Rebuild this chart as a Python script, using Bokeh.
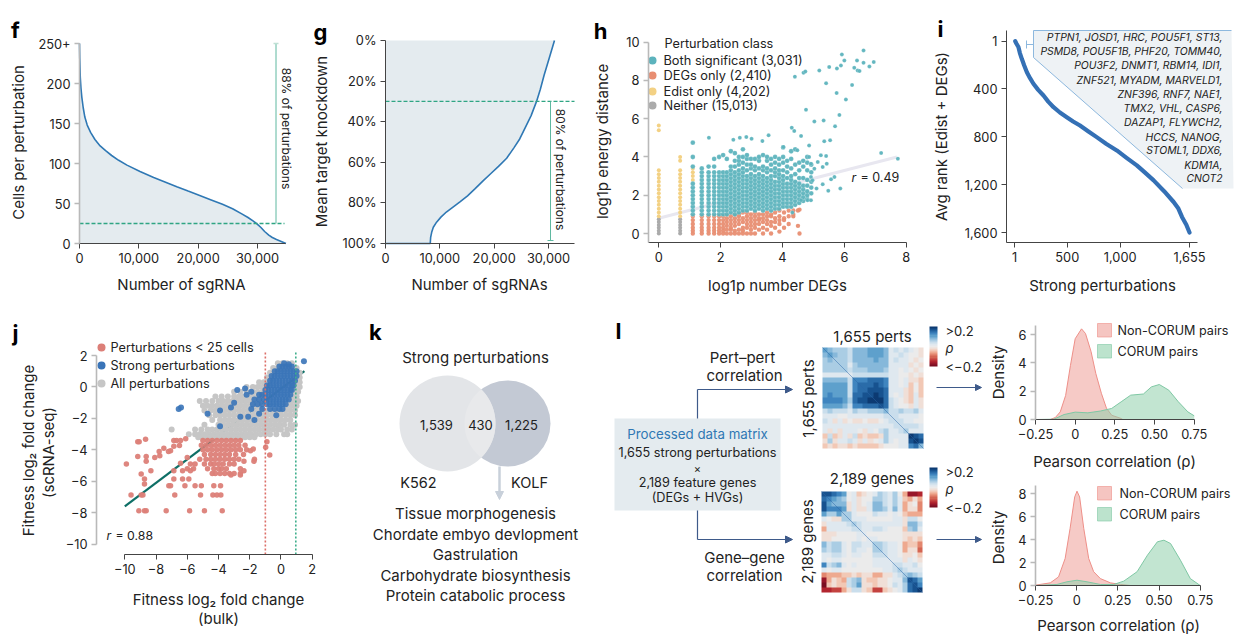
from bokeh.plotting import figure
from bokeh.embed import file_html
from bokeh.resources import INLINE
from bokeh.layouts import row, column
from bokeh.models import (Label, LinearAxis, FixedTicker, Range1d, Arrow, NormalHead,
                          LinearColorMapper)
import numpy as np

# ---------- panel f ----------
f_x = [0,40,130,250,390,620,900,1300,1870,2600,3480,4400,5420,6600,8000,10200,12500,14400,16400,18300,20260,22200,24100,25800,27350,28400,29300,30000,30580,31200,31900,32500,33200,34000,34800]
f_y = [250,232,208,194,183,170,158,148,139,130,122,116,110,104,98,90,82.5,77,71,65.5,60,54.5,49,43.5,37,32.5,28,24,20,15,10.5,7.5,5,2.5,0]
f_xticks = [0,10000,20000,30000]; f_xlabels = ["0","10,000","20,000","30,000"]
f_yticks = [0,50,100,150,200,250]; f_ylabels = ["0","50","100","150","200","250+"]
f_cutoff = 25
# ---------- panel g ----------
g_x = [0,8240,8270,8310,8500,8800,9400,10200,11200,12300,13700,15100,16500,18000,19400,20800,22300,23600,24700,25700,26800,27800,28500,29200,30100,31100]
g_y = [100,100,98.5,97,94.5,92,89.5,87,84.5,82.3,79.5,76.5,73,69,65.5,62,58,53,48.5,43,37,30,24,17,9,0]
g_xticks = [0,10000,20000,30000]; g_xlabels = ["0","10,000","20,000","30,000"]
g_yticks = [0,20,40,60,80,100]; g_ylabels = ["0%","20%","40%","60%","80%","100%"]
g_cutoff = 30
# ---------- panel h ----------
h_grey_x = [0,.69]
h_grey_cols = [[0,.15,.3,.45,.6,.75],[0,.15,.3,.45,.6,.75]]
h_yellow_x = [0,.69,1.1]
h_yellow_cols = [[.9,1.1,1.3,1.5,1.7,1.9,2.1,2.3,2.5,2.7,2.9,3.1,3.3,5.4,5.65],
                 [.9,1.1,1.3,1.5,1.7,1.9,2.1,2.3,2.5,2.7,2.9,3.1,3.3,3.8,4.0],
                 [2.8,3,3.2,3.4]]
h_both_x = [1.1,1.39,1.61,1.79,1.95,2.08,2.2,2.33,2.46,2.59,2.72,2.85,2.98,3.11,3.24,3.37,3.5,3.63,3.76,3.89,4.02,4.15,4.28,4.41,4.54,4.67,4.8,4.93]
h_both_cols = [
 [1,1.2,1.4,1.6,1.8,2,2.2,2.4,2.6,3.5,4,4.75],
 [1,1.2,1.4,1.6,1.8,2,2.2,2.4,2.6,2.8,3,3.2,3.4],
 [1,1.2,1.4,1.6,1.8,2,2.2,2.4,2.6,2.8,3,3.2,3.5],
 [1,1.2,1.4,1.6,1.8,2,2.2,2.4,2.6,2.8,3,3.2,3.5,3.9],
 [1,1.2,1.4,1.6,1.8,2,2.2,2.4,2.6,2.8,3,3.2,4],
 [1,1.2,1.4,1.6,1.8,2,2.2,2.4,2.6,2.8,3,3.2,4.1],
 [1,1.2,1.4,1.6,1.8,2,2.2,2.4,2.6,2.8,3,3.2,3.9],
 [1.1,1.3,1.5,1.7,1.9,2.1,2.3,2.5,2.7,2.9,3.1,3.3,3.5,4.3],
 [1,1.2,1.4,1.6,1.8,2,2.2,2.4,2.6,2.8,3,3.2,3.5,3.8,4.2],
 [1.1,1.3,1.5,1.7,1.9,2.1,2.3,2.5,2.7,2.9,3.1,3.3,3.6,3.8,4],
 [1.2,1.4,1.6,1.8,2,2.2,2.4,2.6,2.8,3,3.2,3.4,3.7,4,4.4],
 [1.2,1.4,1.6,1.8,2,2.2,2.4,2.6,2.8,3,3.3,3.6,3.9,4.1],
 [1.3,1.5,1.7,1.9,2.1,2.3,2.5,2.7,2.9,3.1,3.4,3.6,3.9],
 [1.2,1.4,1.6,1.8,2,2.2,2.4,2.6,2.8,3,3.3,3.5,3.9],
 [1.3,1.5,1.7,1.9,2.1,2.3,2.5,2.7,2.9,3.1,3.4,3.8,4],
 [1.2,1.4,1.6,1.8,2,2.2,2.4,2.6,2.8,3,3.3,3.5,4.1],
 [1.3,1.5,1.7,1.9,2.1,2.3,2.5,2.7,2.9,3.2,3.4,3.8,4],
 [1.2,1.4,1.6,1.8,2,2.2,2.4,2.6,2.8,3,3.3,3.6,3.9],
 [1.3,1.5,1.7,1.9,2.1,2.3,2.5,2.7,3,3.2,3.4,3.7,4],
 [1.3,1.5,1.7,1.9,2.1,2.3,2.5,2.7,2.9,3.1,3.3,3.6,3.9],
 [1.4,1.6,1.8,2,2.2,2.4,2.6,2.8,3,3.3,3.7,4,4.5],
 [1.4,1.6,1.8,2,2.2,2.4,2.6,2.9,3.2,3.5,3.8],
 [1.4,1.6,1.8,2,2.2,2.4,2.6,2.8,3,3.4,3.9,4.3],
 [1.5,1.7,1.9,2.1,2.3,2.5,2.7,3.1,3.6,4.4],
 [1.6,1.8,2,2.2,2.4,2.6,2.9,3.3,3.7],
 [1.7,1.9,2.1,2.3,2.5,2.9,3.5,3.8],
 [1.8,2,2.2,2.5,2.8,3.3,3.7,4],
 [2.1,2.4,2.7,3.2,3.6]]
h_sparse_x = [1.62,2.41,2.62,2.83,3,3.35,3.55,4.03,4.3,4.38,4.6,4.4,4.68,4.74,5.19,5.51,5.41,4.76,5.03,5.33,5.7,5.84,5.75,6.05,6.25,5.76,5.92,5.89,6,6.32,6.41,6.43,6.49,6.62,6.62,6.81,6.95,7.19,7.73,5.87,5.48,5.57,5.68,5.3,5.1,4.86,4.48,5.35,5.54,5.24,5.41,4.86,5.43,5.14,4.92,5.03,5.3,4.92,4.97,4.81,4.92,4.6,4.32]
h_sparse_y = [5,4.9,5,5.04,4.95,4.83,5.13,4.52,5.53,5.36,5.1,8.2,8.4,8.47,8.52,8.7,7.86,6.47,5.86,5.91,5.6,6.2,7.34,7,7.76,8.63,9.36,8.78,9.04,8.66,9.04,8.52,8.49,9.57,8.92,8.73,8.96,4.21,3.91,2.35,2.23,2.83,2.96,2.57,2.35,4.6,4.35,4.82,4.87,4.09,4.05,4,3.65,3.74,3.65,3.39,3.48,2.96,2.78,1.74,1.74,1.74,1.1]
h_deg_x = [1.1,1.39,1.61,1.79,1.95,2.08,2.2,2.33,2.46,2.59,2.72,2.85,2.98,3.11,3.24,3.37,3.5,3.63,3.76,3.9,4.05,4.2,4.35,4.5,4.55]
h_deg_cols = [[0,.15,.3,.5,.7,.9],[0,.15,.3,.5,.7,.9],[0,.15,.3,.5,.7,.9],[0,.15,.3,.5,.7,.9],[0,.15,.3,.5,.7,.9],[0,.15,.3,.5,.7,.9],
 [0,.2,.4,.6,.8,1],[0,.2,.3,.5,.7,.9],[0,.15,.4,.6,.8,1],[0,.2,.5,.7,.9,1],[0,.15,.3,.6,.8,1.1],[0,.3,.5,.7,.9,1.1],[0,.2,.4,.6,.8,1],
 [0,.3,.5,.7,.9,1.1],[.2,.5,.7,.8,1],[0,.3,.6,.8,1],[.2,.5,.7,.9,1.1],[0,.4,.6,.9,1],[.3,.6,.8,1.1],[.1,.5,.7,.9,1.2],[.3,.7,.8,1.1],[.5,.9,1.2],[.9,1,1.2],[.4,1.2],[0,1.25]]
h_fit_x = [0,7.7]; h_fit_y = [.8,4]
h_classes = ["Both significant (3,031)","DEGs only (2,410)","Edist only (4,202)","Neither (15,013)"]
h_xticks = [0,2,4,6,8]; h_yticks = [0,2,4,6,8,10]
# ---------- panel i ----------
i_x = [8,20,38,52,70,92,118,148,180,225,275,320,370,430,495,555,620,700,778,870,968,1060,1157,1235,1316,1415,1505,1550,1584,1625,1655]
i_y = [1,22,50,100,148,202,260,310,357,408,455,506,553,597,636,672,706,755,803,860,914,976,1039,1100,1164,1255,1345,1400,1470,1535,1600]
i_xticks = [1,500,1000,1655]; i_xlabels = ["1","500","1,000","1,655"]
i_yticks = [1,400,800,1200,1600]; i_ylabels = ["1","400","800","1,200","1,600"]
i_genes = ["PTPN1, JOSD1, HRC, POU5F1, ST13,","PSMD8, POU5F1B, PHF20, TOMM40,","POU3F2, DNMT1, RBM14, IDI1,",
 "ZNF521, MYADM, MARVELD1,","ZNF396, RNF7, NAE1,","TMX2, VHL, CASP6,","DAZAP1, FLYWCH2,","HCCS, NANOG,",
 "STOML1, DDX6,","KDM1A,","CNOT2"]
# ---------- panel j ----------
j_grey_rows = [1.5,1.2,.9,.6,.3,0,-.3,-.6,-.9,-1.2,-1.5,-1.8,-2.1,-2.4,-2.7,-3,-3.2]
j_grey_cols = [
 [-.2,.1,.4,.7],[-.5,-.2,.1,.4,.7,1],[-.7,-.4,1,1.2],[-.9,-.6,1,1.2],[-1.4,-1.1,-.8,1,1.2],[-2.2,-1.8,-1.5,-1.2,-.9,1,1.2],
 [-3,-2.6,-2.2,-1.8,-1.5,-1.2,.9,1.1],[-4.2,-3.8,-3.4,-3,-2.7,-2.4,-2.1,-1.8,-1.5,-1.2,.7,1],
 [-5.2,-4.8,-4.4,-4,-3.7,-3.4,-3.1,-2.8,-2.5,-2.2,-1.9,-1.6,-1.3,.6,.9,1.1],
 [-5,-4.7,-4.4,-4.1,-3.8,-3.5,-3.2,-2.9,-2.6,-2.3,-2,-1.7,-1.4,.4,.7,1],
 [-4.9,-4.5,-4.2,-3.9,-3.6,-3.3,-3,-2.7,-2.4,-2.1,-1.8,-1.5,-1.2,-.9,-.6,-.3,0,.3,.6,.9],
 [-4.6,-4.2,-3.9,-3.6,-3.3,-3,-2.7,-2.4,-2.1,-1.8,-1.5,-1.2,-.9,-.6,-.3,0,.3,.6,.9],
 [-4.4,-3.9,-3.6,-3.3,-3,-2.7,-2.4,-2.1,-1.8,-1.5,-1.2,-.9,-.6,-.3,0,.3,.6],
 [-4.9,-4,-3.7,-3.4,-3.1,-2.8,-2.5,-2.2,-1.9,-1.6,-1.3,-1,-.7,-.4,-.1,.2,.6,.9],
 [-7,-5.5,-5.1,-4.7,-4.4,-4.1,-3.8,-3.5,-3.2,-2.9,-2.6,-2.3,-2,-1.7,-1.4,-1.1,-.8,-.5,-.2,0,.4,.7],
 [-5.9,-5.5,-5.2,-4.9,-4.6,-4.3,-4,-3.7,-3.4,-3.1,-2.8,-2.5,-2.2,-1.9,-1.6,-1.3,-1,-.7,-.3,.2,.4],
 [-5.3,-5,-4.7,-4.4,-4.1,-3.8,-3.5,-3.2,-2.9,-2.6,-2.3,-2,-1.7]]
j_red_rows = [-3.4,-3.7,-4,-4.3,-4.6,-4.9,-5.2,-5.5]
j_red_cols = [
 [-5,-4.7,-4.4,-4.1,-3.8,-3.5,-3.2,-2.9,-2.6],[-5.1,-4.8,-4.5,-4.2,-3.9,-3.6,-3.3,-3,-2.7,-2.3],
 [-5,-4.7,-4.4,-4.1,-3.8,-3.5,-3.2,-2.9,-2.6,-2.2],[-4.9,-4.5,-4.2,-3.9,-3.6,-3.3,-2.9,-2.4],
 [-5.2,-4.8,-4.5,-4.2,-3.9,-3.6,-3.3,-3,-2.7,-1.7],[-5.8,-5.5,-4.9,-4.5,-4.3,-4,-3.7,-3.3,-3],
 [-6,-5.6,-4.7,-4.3,-4,-3.8,-3.5,-2.6],[-4.4,-4.2,-3.9,-3.6,-3.3,-3,-2.6]]
j_red_x = [-9.9,-9.17,-9.08,-8.67,-9.17,-8.63,-8.63,-8.95,-8.33,-8.74,-8.74,-9.6,-8.95,-8.84,-9.1,-8.74,-8.63,-7.35,-5.85,-4.9,-3.76,-6.8,-5.15,-4.36,-4.1,-3.85,-7.18,-7.07,-6.15,-5.5,-5.1,-4.3,-3.87,-6.86,-6.3,-5.9,-6.86,-6.3,-5.8,-8.08,-7.76,-7.5,-7.8,-7.07,-6.86,-6.69,-6.43,-6.86,-6.5,-6.1,-7.2,-6.43,-6,-1.77,-1.95,-.9,-.72,-.98,-2.37,-1.73,-2.37,-3.2,-2.6]
j_red_y = [-4.9,-3.48,-3.48,-3.33,-4.43,-4.43,-4.73,-5.54,-5.33,-5.85,-6.17,-6.87,-6.87,-6.87,-7.87,-7.87,-7.87,-7.87,-7.87,-7.87,-7.87,-6.87,-6.87,-6.87,-6.87,-6.87,-6.28,-6.28,-6.28,-6.28,-6.28,-6.28,-6.28,-5.85,-5.85,-5.85,-5.33,-5.33,-5.33,-4.48,-4.37,-3.9,-4.1,-4.05,-3.41,-3.41,-3.41,-3.77,-3.73,-3.3,-4.1,-4.86,-4.48,-3.95,-4.05,-3.48,-4.33,-3.84,-4.73,-4.73,-5.33,-5.6,-5.6]
j_blue_rows = [1.3,1,.7,.4,.1,-.2,-.5,-.8,-1.1,-1.4]
j_blue_cols = [
 [-.1,.1,.3,.5,.7],[-.4,-.2,0,.2,.4,.6,.8,1],[-.6,-.4,-.2,0,.2,.4,.6,.8,1],[-.7,-.5,-.3,-.1,.1,.3,.5,.7,.9],
 [-.9,-.7,-.5,-.3,-.1,.1,.3,.5,.7,.8],[-1,-.8,-.6,-.4,-.2,0,.2,.4,.6,.7],[-1.4,-1.2,-1,-.8,-.6,-.4,-.2,0,.2,.4,.6],
 [-1.7,-1.4,-1.1,-.9,-.7,-.5,-.3,-.1,.1,.3,.5],[-1.8,-1.5,-1.2,-.9,-.7,-.5,-.3,-.1,.1,.3],[-1.9,-1.2,-.7,-.4,-.1,.1]]
j_blue_x = [1.47,-6.4,-6.55,-2.8,-2.3,-1.9,-2.2,-3,-4.7,-3.9,-3.2,-2.6,-2.1,-1.7,-3.9,-1.4,.2,.5,-.3]
j_blue_y = [1.64,-1.3,-1.4,-.2,-.1,-.3,-.5,-1,-1.7,-1.5,-1.3,-1.9,-1.9,-2.1,-2.5,-1.7,1.5,1.45,-1.8]
j_fit_x = [-10,1.5]; j_fit_y = [-7.6,1]
j_xticks = [-10,-8,-6,-4,-2,0,2]; j_xlabels = ["\u221210","\u22128","\u22126","\u22124","\u22122","0","2"]
j_yticks = [-10,-8,-6,-4,-2,0,2]; j_ylabels = j_xlabels
j_classes = ["Perturbations < 25 cells","Strong perturbations","All perturbations"]
# ---------- panel k ----------
k_counts = ["1,539","430","1,225"]
k_sets = ["K562","KOLF"]
k_terms = ["Tissue morphogenesis","Chordate embyo devlopment","Gastrulation","Carbohydrate biosynthesis","Protein catabolic process"]
# ---------- panel l heat maps ----------
pert_matrix = [
 [5,4,3,3,3,2,4,4,4,5,5,5,4,1,2,1,2,1,0,-1],[4,5,4,3,3,2,4,4,4,5,5,5,4,1,1,2,1,0,0,-1],
 [3,4,3,3,3,2,4,4,4,4,5,4,4,1,2,1,1,0,-1,0],[3,3,3,3,3,1,3,4,4,4,4,4,4,1,1,1,1,-1,0,-1],
 [3,3,3,3,3,2,3,3,3,4,4,4,3,1,1,0,1,0,-1,0],[1,1,1,1,1,1,2,2,2,2,2,2,2,1,1,0,0,-1,0,-1],
 [4,4,4,4,4,2,6,6,6,7,7,7,6,1,1,0,1,-1,-1,-2],[5,5,5,5,5,2,6,7,7,7,8,7,6,1,1,0,1,-2,0,-2],
 [5,5,5,5,5,2,6,7,7,8,8,8,7,1,1,1,-1,-2,0,-2],[5,6,5,5,5,2,7,7,8,8,9,8,7,1,0,1,-1,-2,1,-2],
 [6,6,6,6,5,3,7,8,8,9,9,9,7,2,1,0,-1,-2,1,-1],[5,5,5,5,4,2,6,6,7,7,7,8,7,2,1,0,0,-1,1,-1],
 [2,3,2,2,2,1,3,2,2,3,3,3,4,2,2,3,2,2,3,1],[1,1,1,0,0,1,1,1,1,1,1,1,2,2,2,1,1,1,1,0],
 [2,1,-1,1,-1,0,-1,-1,0,-1,-1,0,1,2,2,2,1,1,0,0],[1,1,1,1,1,1,1,1,1,1,1,1,1,1,2,2,2,2,2,1],
 [1,-1,1,-1,1,1,1,0,-1,1,0,2,3,1,1,2,3,1,1,1],[-2,2,-2,-1,1,-1,2,-2,-1,-2,-2,-1,3,1,1,1,1,9,8,7],
 [-1,3,-1,1,1,2,1,-1,1,-1,0,1,3,1,0,1,1,8,9,8],[-2,-1,-2,-1,-1,-2,-1,-2,-2,-2,-2,-1,0,0,0,1,1,6,7,4]]
gene_matrix = [
 [8,8,7,6,5,0,1,-2,-1,0,1,3,2,1,3,0,-3,-8,-8,-7],[7,6,5,4,3,0,1,-1,0,0,3,3,2,1,3,1,-2,-3,-1,-3],
 [8,5,4,4,4,-1,1,-1,0,1,4,4,2,1,3,1,-3,-1,0,-4],[8,6,6,6,5,-1,1,-1,-1,1,4,4,3,1,4,1,-3,-1,-1,-4],
 [5,3,3,5,3,3,1,0,0,0,2,1,1,0,1,0,-2,-3,-3,-3],[1,0,-1,-1,3,3,1,1,1,0,0,0,0,0,1,1,-1,2,2,0],
 [-1,1,1,1,1,2,3,2,1,1,1,1,1,1,1,1,-1,4,4,2],[-3,1,1,1,1,1,2,2,1,1,2,2,1,0,0,0,-2,3,4,1],
 [-1,-1,-1,0,0,0,0,1,1,0,0,0,0,0,0,0,-1,-1,-1,-1],[-1,-1,0,0,0,0,0,1,0,1,1,0,0,0,0,0,-1,-2,-1,-2],
 [4,2,3,3,1,0,2,2,1,1,3,3,2,1,1,0,-3,-2,-2,-4],[3,2,3,3,1,0,2,1,1,0,3,3,2,1,1,0,-3,-1,-1,-5],
 [1,1,2,2,1,0,1,1,0,0,2,2,2,1,1,0,-1,-1,0,-2],[1,0,1,1,0,0,0,0,0,0,1,1,1,1,1,1,-1,1,0,-1],
 [6,2,3,4,1,0,1,0,0,0,1,1,1,1,2,2,1,1,2,0],[1,0,1,1,0,0,0,0,0,0,0,0,1,1,2,3,2,1,1,1],
 [-4,-3,-3,-3,-2,-2,-1,-2,-1,-1,-3,-3,-1,-1,1,2,3,4,3,2],[-8,-3,-1,-2,-3,2,3,4,-1,-2,-2,-1,-1,0,1,1,4,8,7,5],
 [-9,-2,-1,-2,-2,2,3,5,-1,-1,-2,-1,-1,0,2,1,3,7,8,6],[-7,-7,-6,-6,-3,-1,2,2,-1,-2,-6,-6,-2,-1,0,1,3,7,8,9]]
cbar_levels = [9,8,7,6,5,4,3,2,1,0,-1,-2,-3,-4,-5,-6,-7,-8,-9]
heat_palette = ["#7a0f22","#98172a","#b2252f","#c4423f","#d46552","#e3866e","#eea98f","#f2c8b5","#f0dfd7","#ebebeb",
                "#dfe8ef","#cadeec","#aacde4","#86b8da","#5ea0cc","#3f85bf","#2a6ca9","#17528f","#0c3a72"]
# ---------- density panels ----------
d1_non_x = [-.157,-.125,-.094,-.06,-.03,0,.04,.065,.1,.13,.165,.197,.23,.29,.3]
d1_non_y = [0,.14,.54,1.7,3.8,5.7,6.4,6.07,4.8,3.25,1.85,.8,.3,.07,0]
d1_cor_x = [-.25,-.135,-.07,0,.08,.16,.23,.29,.35,.43,.48,.53,.59,.65,.71,.75]
d1_cor_y = [0,.02,.35,.52,.47,.6,.78,1.25,1.72,1.8,2.3,2.47,2.07,1.25,.54,.26]
d2_non_x = [-.25,-.16,-.11,-.07,-.04,-.012,.002,.018,.043,.073,.103,.144,.205,.266,.327]
d2_non_y = [.03,.23,.75,2.35,4.96,7.7,8.2,7.7,4.96,2.35,1.2,.6,.23,.09,0]
d2_cor_x = [-.25,-.12,-.06,.002,.063,.144,.225,.286,.367,.43,.49,.53,.57,.63,.69,.75]
d2_cor_y = [0,.09,.32,.46,.32,.09,.09,.38,1.2,2.64,3.8,3.94,3.65,2.2,.6,0]
d_xticks = [-.25,0,.25,.5,.75]; d_xlabels = ["\u22120.25","0","0.25","0.50","0.75"]
d1_yticks = [0,2,4,6]; d2_yticks = [0,2,4,6,8]
d_classes = ["Non-CORUM pairs","CORUM pairs"]

# ---------- helpers (coordinates below are page pixels of the layout) ----------
FONT = "Inter"; INK = "#222222"; DARK = "#444444"; GREY = "#b9b9b9"; TICK = "12.8px"; TITLE = 15
MAPS = {}
def panel(cell, ax, ay):
    cx0, cy0, cx1, cy1 = cell
    sx = (ax[3]-ax[1])/(ax[2]-ax[0]); sy = (ay[3]-ay[1])/(ay[2]-ay[0])
    X = lambda px: ax[1]+(px-ax[0])*sx
    Y = lambda py: ay[1]+(py-ay[0])*sy
    p = figure(width=cx1-cx0, height=cy1-cy0, min_border=0,
               x_range=Range1d(X(cx0), X(cx1)), y_range=Range1d(Y(cy1), Y(cy0)),
               x_axis_type=None, y_axis_type=None, output_backend="svg", toolbar_location=None,
               outline_line_color=None, background_fill_color=None, border_fill_color=None)
    p.grid.visible = False
    MAPS[p.id] = (X, Y)
    return p, X, Y
def axis(p, side, loc, ticks, labels, bounds, color=DARK, width=1.0, standoff=4):
    a = LinearAxis(ticker=FixedTicker(ticks=ticks), bounds=bounds, fixed_location=loc,
                   major_label_overrides={t: l for t, l in zip(ticks, labels)},
                   axis_line_color=color, axis_line_width=width, major_tick_line_color=color,
                   major_tick_line_width=width, major_tick_out=5, major_tick_in=0, minor_tick_out=0, minor_tick_in=0,
                   major_label_text_font=FONT, major_label_text_font_size=TICK, major_label_text_color=INK,
                   major_label_standoff=standoff)
    p.add_layout(a, side)
def T(p, px, py, text, size=TITLE, align="center", base="middle", angle=0, color=INK, style="normal", font=FONT):
    X, Y = MAPS[p.id]
    p.add_layout(Label(x=X(px), y=Y(py), text=text, text_font=font, text_font_size=f"{size}px", text_color=color,
                       text_align=align, text_baseline=base, angle=angle, angle_units="deg", text_font_style=style))
def columns_to_points(xs, cols):
    ox, oy = [], []
    for x, c in zip(xs, cols):
        ox += [x]*len(c); oy += c
    return ox, oy
def rows_to_points(ys, rows):
    oy, ox = columns_to_points(ys, rows)
    return ox, oy
BLUE = "#2f78b4"; FILL = "#e4ebef"; GREEN = "#2fa583"; LET = 22

# ---- f ----
pf, X, Y = panel((0,0,305,310), (79,0,257,30000), (243,0,43,250))
pf.varea(f_x, [0]*len(f_x), f_y, color=FILL)
pf.line(f_x, f_y, color=BLUE, line_width=1.6)
pf.line([0, X(284)], [f_cutoff]*2, color=GREEN, line_dash=[4,2], line_width=1.3)
pf.line([X(275.5)]*2, [f_cutoff, 250], color="#5fb8a0", line_width=1)
pf.line([X(273), X(278)], [250,250], color="#bfe0d4", line_width=1.5)
axis(pf, "left", 0, f_yticks, f_ylabels, (0,250), color=GREY, width=1.6)
axis(pf, "below", 0, f_xticks, f_xlabels, (0,X(285)))
T(pf, 18, 142, "Cells per perturbation", angle=90)
T(pf, 181, 284, "Number of sgRNA")
T(pf, 286, 128, "88% of perturbations", 12, angle=-90)
T(pf, 15, 29, "f", LET, style="bold", color="#000000")
# ---- g ----
pg, X, Y = panel((305,0,592,310), (385,0,548,30000), (40,0,243,100))
pg.harea(x1=[0]*len(g_x), x2=g_x, y=g_y, color=FILL)
pg.line(g_x, g_y, color=BLUE, line_width=1.6)
pg.line([0, X(574)], [g_cutoff]*2, color=GREEN, line_dash=[4,2], line_width=1.3)
pg.line([X(550)]*2, [g_cutoff, Y(240)], color="#5fb8a0", line_width=1)
pg.line([X(547), X(553)], [Y(240)]*2, color="#5fb8a0", line_width=1)
axis(pg, "left", 0, g_yticks, g_ylabels, (100,0))
axis(pg, "below", 100, g_xticks, g_xlabels, (0,X(574)))
T(pg, 321, 141, "Mean target knockdown", angle=90)
T(pg, 479, 284, "Number of sgRNAs")
T(pg, 560, 169, "80% of perturbations", 12, angle=-90)
T(pg, 320, 31, "g", LET, style="bold", color="#000000")
# ---- h ----
ph, X, Y = panel((592,0,925,310), (658.3,0,905.7,8), (233,0,41.7,10))
ph.line(h_fit_x, h_fit_y, color="#e8e7f0", line_width=3)
for xs, cols, c in [(h_grey_x,h_grey_cols,"#ababab"),(h_yellow_x,h_yellow_cols,"#f3d184")]:
    a, b = columns_to_points(xs, cols)
    ph.scatter(a, b, size=4, color=c, line_width=0)
a, b = columns_to_points(h_deg_x, h_deg_cols)
ph.scatter(a, b, size=4.4, color="#e88e72", line_width=0, alpha=.95)
a, b = columns_to_points(h_both_x, h_both_cols)
ph.scatter(a, b, size=4.8, color="#5cb3bd", line_color="#ffffff", line_width=.2, alpha=.95)
ph.scatter(h_sparse_x, h_sparse_y, size=4, color="#5cb3bd", line_color="#ffffff", line_width=.2, alpha=.95)
axis(ph, "left", X(648), h_yticks, [str(t) for t in h_yticks], (Y(242),10), color=GREY, width=1.6)
axis(ph, "below", Y(242), h_xticks, [str(t) for t in h_xticks], (X(648),8))
for yy, c, s in zip([60,75,91,105], ["#5cb3bd","#e88e72","#f3d184","#ababab"], h_classes):
    ph.scatter([X(652)], [Y(yy)], size=8, color=c, line_width=0)
    T(ph, 663, yy, s, 12.8, align="left")
T(ph, 664, 43, "Perturbation class", 12.7, align="left")
T(ph, 851, 177, "r", 12.5, align="left", style="italic")
T(ph, 860, 177, "= 0.49", 12.5, align="left")
T(ph, 602, 141, "log1p energy distance", angle=90)
T(ph, 777, 285, "log1p number DEGs")
T(ph, 600, 30, "h", LET, style="bold", color="#000000")
# ---- i ----
pi, X, Y = panel((925,0,1241,310), (1014,1,1189,1655), (40.7,1,232,1600))
poly_x = [X(1033),X(1231),X(1233),X(1182),X(1033)]
poly_y = [Y(30),Y(30),Y(188),Y(188),Y(57)]
pi.patch(poly_x, poly_y, color="#eef2f5", line_width=0)
pi.line([X(1033),X(1033),X(1182)], [Y(30),Y(57),Y(188)], color="#8db8de", line_width=1)
pi.line([X(1033),X(1231)], [Y(30),Y(30)], color="#8db8de", line_width=1)
pi.line([X(1026),X(1033)], [Y(44),Y(44)], color="#8db8de", line_width=1)
pi.line([X(1026),X(1026)], [Y(40),Y(48)], color="#8db8de", line_width=1)
pi.line(i_x, i_y, color="#3470b5", line_width=4.2, line_cap="round", line_join="round")
axis(pi, "left", X(1006), i_yticks, i_ylabels, (Y(242),Y(30)))
axis(pi, "below", Y(242), i_xticks, i_xlabels, (X(1006),X(1197)))
for yy, s in zip([37.3,51.3,65.3,80,94,108,122,137,150,165,178], i_genes):
    T(pi, 1222, yy, s, 10.4, align="right", style="italic")
T(pi, 941, 136, "Avg rank (Edist + DEGs)", angle=90)
T(pi, 1102, 285, "Strong perturbations")
T(pi, 940, 28, "i", LET, style="bold", color="#000000")
# ---- j ----
pj, X, Y = panel((0,310,330,635), (124.3,-10,311.7,2), (543.7,-10,355,2))
pj.line(j_fit_x, j_fit_y, color="#0e6f66", line_width=2.2)
a, b = rows_to_points(j_grey_rows, j_grey_cols)
pj.scatter(a, b, size=6, color="#c6c6c6", line_width=0)
a, b = rows_to_points(j_red_rows, j_red_cols)
pj.scatter(a+j_red_x, b+j_red_y, size=5.5, color="#dc7f78", line_width=0, alpha=.95)
a, b = rows_to_points(j_blue_rows, j_blue_cols)
pj.scatter(a+j_blue_x, b+j_blue_y, size=6, color="#3a74b8", line_width=0, alpha=.9)
pj.line([-1,-1], [Y(554),2.3], color="#dc6f68", line_dash=[2,2], line_width=1.6)
pj.line([.95,.95], [Y(554),2.3], color="#3fae8c", line_dash=[2,2], line_width=1.6)
axis(pj, "left", X(96), j_yticks, j_ylabels, (-10,2), color=GREY, width=1.6)
axis(pj, "below", Y(554), j_xticks, j_xlabels, (-10,2))
for yy, c, s in zip([347,365,383], ["#dc7f78","#3a74b8","#c6c6c6"], j_classes):
    pj.scatter([X(101)], [Y(yy)], size=8, color=c, line_width=0)
    T(pj, 110, yy, s, 12.7, align="left")
T(pj, 106, 535, "r", 12.3, align="left", style="italic")
T(pj, 115, 535, "= 0.88", 12.3, align="left")
T(pj, 28, 450, "Fitness log\u2082 fold change", angle=90)
T(pj, 48, 452, "(scRNA-seq)", angle=90)
T(pj, 218, 599, "Fitness log\u2082 fold change")
T(pj, 218, 618, "(bulk)")
T(pj, 15, 332, "j", LET, style="bold", color="#000000")
# ---- k ----
pk, X, Y = panel((330,310,600,635), (330,0,600,270), (635,0,310,325))
pk.circle([X(507)], [Y(423)], radius=43, color="#c3c9d4", line_width=0)
pk.circle([X(447)], [Y(423)], radius=48, color="#e3e5e8", line_width=0)
t1 = np.arctan2(34.1, 33.8); t2 = np.arctan2(34.1, 26.2)
lens_a = np.linspace(-t1, t1, 30); lens_b = np.linspace(np.pi-t2, np.pi+t2, 30)
lens_x = np.r_[447+48*np.cos(lens_a), 507+43*np.cos(lens_b)]
lens_y = np.r_[423+48*np.sin(lens_a), 423+43*np.sin(lens_b)]
pk.patch([X(v) for v in lens_x], [Y(v) for v in lens_y], color="#e8e9eb", line_width=0)
pk.add_layout(Arrow(end=NormalHead(size=8, fill_color="#c8d0da", line_color="#c8d0da"), x_start=X(499), y_start=Y(466),
                    x_end=X(499), y_end=Y(499), line_color="#c8d0da", line_width=2.5))
for px, s in zip([436,480,521], k_counts):
    T(pk, px, 424, s, 13)
for px, s in zip([418,529], k_sets):
    T(pk, px, 482, s, 14.5)
T(pk, 475, 357, "Strong perturbations")
for yy, s in zip([513,534,554,575,595], k_terms):
    T(pk, 475, yy, s)
T(pk, 375, 331, "k", LET, style="bold", color="#000000")
# ---- l ----
pl, X, Y = panel((600,310,985,635), (600,0,985,385), (635,0,310,325))
pl.quad(left=[X(614)], right=[X(780)], top=[Y(418)], bottom=[Y(510)], color=FILL, line_width=0)
NAVY = "#3e5a8a"
for yy, y0 in [(389,418),(539,510)]:
    pl.line([X(697),X(697)], [Y(y0),Y(yy)], color=NAVY, line_width=1.2)
    pl.add_layout(Arrow(end=NormalHead(size=7, fill_color=NAVY, line_color=NAVY), x_start=X(697), y_start=Y(yy), x_end=X(792), y_end=Y(yy), line_color=NAVY, line_width=1.2))
    pl.add_layout(Arrow(end=NormalHead(size=6, fill_color=NAVY, line_color=NAVY), x_start=X(936), y_start=Y(yy-2 if yy==389 else yy), x_end=X(981), y_end=Y(yy-2 if yy==389 else yy), line_color=NAVY, line_width=1))
mapper = LinearColorMapper(palette=heat_palette, low=-9.5, high=9.5)
for m, x0, y0 in [(pert_matrix,822,347),(gene_matrix,821,491)]:
    pl.image(image=[np.array(m, dtype=float)[::-1]], x=X(x0), y=Y(y0+101), dw=101, dh=101, color_mapper=mapper)
    pl.line([X(x0),X(x0+101)], [Y(y0),Y(y0+101)], color="#2a66a6", line_width=.8, alpha=.6)
for yt in [326,467]:
    pl.image(image=[np.array(cbar_levels, dtype=float)[::-1].reshape(-1,1)], x=X(929), y=Y(yt+40), dw=8, dh=40, color_mapper=mapper)
    T(pl, 945, yt+4, ">0.2", 13, align="left")
    T(pl, 945, yt+21, "\u03c1", 13, align="left", style="italic")
    T(pl, 945, yt+40, "<\u22120.2", 13, align="left")
T(pl, 697, 433, "Processed data matrix", 13.3, color="#2f78b4")
for yy, s, z in [(452,"1,655 strong perturbations",12.7),(468,"\u00d7",11),(482,"2,189 feature genes",12.7),(497,"(DEGs + HVGs)",12.7)]:
    T(pl, 697, yy, s, z)
T(pl, 742, 357, "Pert\u2013pert"); T(pl, 744, 375, "correlation")
T(pl, 744, 557, "Gene\u2013gene"); T(pl, 744, 575, "correlation")
T(pl, 872, 336, "1,655 perts"); T(pl, 871.5, 478, "2,189 genes")
T(pl, 808, 398, "1,655 perts", angle=90); T(pl, 807, 541, "2,189 genes", angle=90)
T(pl, 618, 330, "l", LET, style="bold", color="#000000")
# ---- density ----
def density(cell, ax, ay, yticks, nx, ny, cx, cy, ytop, ly, xlab_px, xlab_py, txt_x, dens_y):
    p, X, Y = panel(cell, ax, ay)
    p.varea(nx, [0]*len(nx), ny, color="#ee9e97", alpha=.55)
    p.line(nx, ny, color="#ee8f88", line_width=1)
    p.varea(cx, [0]*len(cx), cy, color="#8fd0ac", alpha=.55)
    p.line(cx, cy, color="#7fc8a4", line_width=1)
    axis(p, "left", X(1035), yticks, [str(t) for t in yticks], (0,Y(ytop)), color=GREY, width=1.6)
    axis(p, "below", 0, d_xticks, d_xlabels, (-.25,.75))
    for yy, c, l, s in zip(ly, ["#ee9e97","#8fd0ac"], ["#ee8f88","#7fc8a4"], d_classes):
        p.quad(left=[X(1097)], right=[X(1111)], top=[Y(yy)], bottom=[Y(yy+13.5)], color=c, alpha=.6, line_color=l, line_width=1)
        T(p, txt_x, yy+7, s, 12.6, align="left")
    T(p, 998, dens_y, "Density", angle=90)
    T(p, xlab_px, xlab_py, "Pearson correlation (\u03c1)")
    return p
d1 = density((985,310,1241,470), (1035,-.25,1193.7,.75), (419,0,334,6), d1_yticks,
             d1_non_x, d1_non_y, d1_cor_x, d1_cor_y, 325, [323,344], 1114, 461, 1117, 372)
d2 = density((985,470,1241,635), (1035,-.25,1199.7,.75), (585,0,493,8), d2_yticks,
             d2_non_x, d2_non_y, d2_cor_x, d2_cor_y, 485, [486,507], 1118, 625, 1119, 537)

layout = column(row(pf, pg, ph, pi, spacing=0), row(pj, pk, pl, column(d1, d2, spacing=0), spacing=0), spacing=0)
open("out.html", "w").write(file_html(layout, INLINE))
